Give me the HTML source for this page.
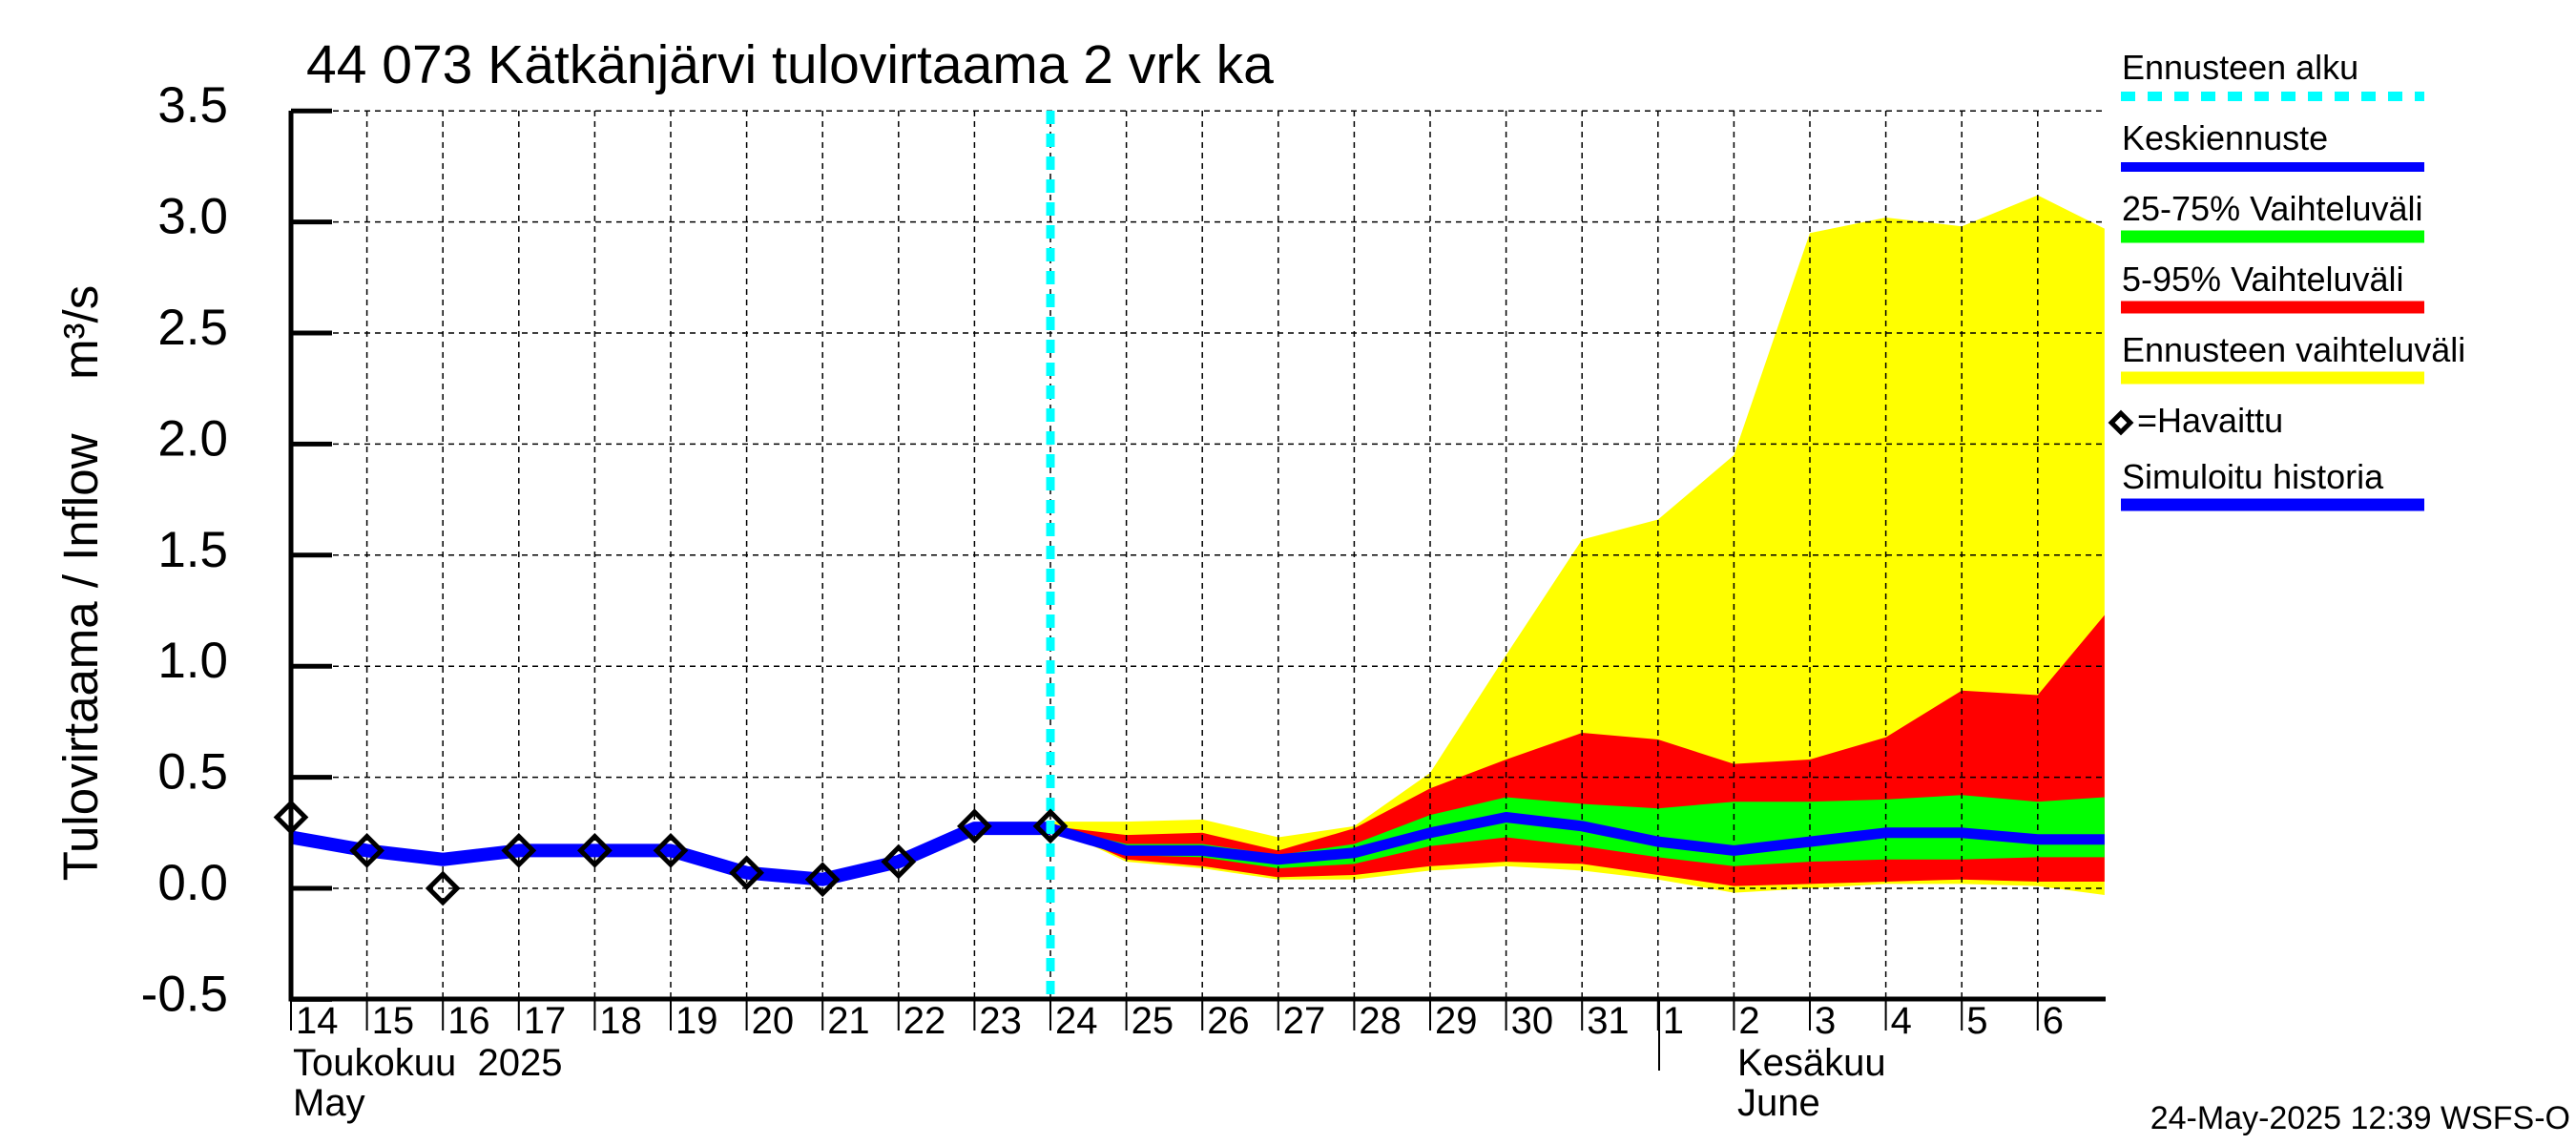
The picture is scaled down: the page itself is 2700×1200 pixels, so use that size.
<!DOCTYPE html>
<html><head><meta charset="utf-8"><style>
html,body{margin:0;padding:0;background:#fff}
svg{display:block}
text{font-family:"Liberation Sans",sans-serif;fill:#000}
</style></head><body>
<svg id="chart" width="2700" height="1200" viewBox="0 0 2700 1200" xmlns="http://www.w3.org/2000/svg">
<g id="bands"></g>
<g id="grid"></g>
<g id="lines"></g>
<g id="axes"></g>
<text x="321" y="87" font-size="57">44 073 Kätkänjärvi tulovirtaama 2 vrk ka</text>
<text transform="translate(102,611) rotate(-90)" font-size="51" text-anchor="middle" xml:space="preserve">Tulovirtaama / Inflow    m³/s</text>
<text x="307" y="1127" font-size="40" xml:space="preserve">Toukokuu  2025</text>
<text x="307" y="1169" font-size="40">May</text>
<text x="1821" y="1127" font-size="40">Kesäkuu</text>
<text x="1821" y="1169" font-size="40">June</text>
<line x1="1739" y1="1047" x2="1739" y2="1122" stroke="#000" stroke-width="2"/>
<text x="2694" y="1183" font-size="34" text-anchor="end">24-May-2025 12:39 WSFS-O</text>
<g>
<text x="2224" y="83" font-size="36">Ennusteen alku</text>
<line x1="2223" y1="101" x2="2541" y2="101" stroke="#00ffff" stroke-width="10" stroke-dasharray="15,13"/>
<text x="2224" y="157" font-size="36">Keskiennuste</text>
<line x1="2223" y1="175" x2="2541" y2="175" stroke="#0000ff" stroke-width="10"/>
<text x="2224" y="231" font-size="36">25-75% Vaihteluväli</text>
<line x1="2223" y1="248" x2="2541" y2="248" stroke="#00ff00" stroke-width="13"/>
<text x="2224" y="305" font-size="36">5-95% Vaihteluväli</text>
<line x1="2223" y1="322" x2="2541" y2="322" stroke="#ff0000" stroke-width="13"/>
<text x="2224" y="379" font-size="36">Ennusteen vaihteluväli</text>
<line x1="2223" y1="396" x2="2541" y2="396" stroke="#ffff00" stroke-width="13"/>
<rect x="2216" y="436" width="14" height="14" transform="rotate(45 2223 443)" fill="#fff" stroke="#000" stroke-width="5"/>
<text x="2240" y="453" font-size="36">=Havaittu</text>
<text x="2224" y="512" font-size="36">Simuloitu historia</text>
<line x1="2223" y1="529" x2="2541" y2="529" stroke="#0000ff" stroke-width="13"/>
</g>
</svg>
<script>
// data
const dayLabels = ["14","15","16","17","18","19","20","21","22","23","24","25","26","27","28","29","30","31","1","2","3","4","5","6"];
const yTicks = [-0.5,0.0,0.5,1.0,1.5,2.0,2.5,3.0,3.5];
const obsIdx = [0,1,2,3,4,5,6,7,8,9,10];
const observed = [0.32,0.17,0.0,0.17,0.17,0.17,0.07,0.04,0.12,0.28,0.28];
const simulated = [0.23,0.17,0.13,0.17,0.17,0.17,0.07,0.04,0.12,0.27,0.27];
const fcIdx = [10,11,12,13,14,15,16,17,18,19,20,21,22,23,23.88];
const median = [0.27,0.17,0.17,0.13,0.16,0.25,0.32,0.28,0.21,0.17,0.21,0.25,0.25,0.22,0.22];
const yelHi = [0.30,0.30,0.31,0.23,0.28,0.52,1.05,1.57,1.66,1.95,2.95,3.02,2.98,3.12,2.97];
const yelLo = [0.28,0.12,0.09,0.04,0.04,0.08,0.10,0.08,0.04,-0.02,0.00,0.02,0.02,0.01,-0.03];
const redHi = [0.28,0.24,0.25,0.17,0.27,0.45,0.58,0.70,0.67,0.56,0.58,0.68,0.89,0.87,1.23];
const redLo = [0.28,0.13,0.10,0.05,0.06,0.10,0.12,0.11,0.06,0.01,0.02,0.03,0.04,0.03,0.03];
const grnHi = [0.28,0.20,0.20,0.15,0.20,0.33,0.41,0.38,0.36,0.39,0.39,0.40,0.42,0.39,0.41];
const grnLo = [0.28,0.15,0.14,0.09,0.11,0.19,0.23,0.19,0.14,0.10,0.12,0.13,0.13,0.14,0.14];
const forecastStart = 10;

const X0=305, X1=2207, DX=79.6, Y0=931, DY=232.8, YT=116, YB=1047;
const xs = i => X0 + i*DX;
const ys = v => Y0 - v*DY;
const NS="http://www.w3.org/2000/svg";
function mk(tag, parent, attrs){const e=document.createElementNS(NS,tag);for(const k in attrs)e.setAttribute(k,attrs[k]);parent.appendChild(e);return e;}
const bands=document.getElementById('bands'), grid=document.getElementById('grid'), lines=document.getElementById('lines'), axes=document.getElementById('axes');

function band(hi, lo, color, name){
  let pts=fcIdx.map((i,k)=>xs(i)+','+ys(hi[k]));
  for(let k=fcIdx.length-1;k>=0;k--) pts.push(xs(fcIdx[k])+','+ys(lo[k]));
  const p=mk('polygon',bands,{points:pts.join(' '),fill:color});
  
  
}
band(yelHi,yelLo,'#ffff00','band-forecast-range');
band(redHi,redLo,'#ff0000','band-5-95');
band(grnHi,grnLo,'#00ff00','band-25-75');

// grid
for(let i=1;i<dayLabels.length;i++){
  const l=mk('line',grid,{x1:xs(i),y1:YT,x2:xs(i),y2:YB,stroke:'#000','stroke-width':1.5,'stroke-dasharray':'6,5'});
  
  
}
yTicks.forEach(v=>{
  const l=mk('line',grid,{x1:X0,y1:ys(v),x2:X1,y2:ys(v),stroke:'#000','stroke-width':1.5,'stroke-dasharray':'6,5'});
  
  
});

// lines
const sim=mk('polyline',lines,{points:obsIdx.map((i,k)=>xs(i)+','+ys(simulated[k])).join(' '),fill:'none',stroke:'#0000ff','stroke-width':14,'stroke-linejoin':'round'});


const med=mk('polyline',lines,{points:fcIdx.map((i,k)=>xs(i)+','+ys(median[k])).join(' '),fill:'none',stroke:'#0000ff','stroke-width':11,'stroke-linejoin':'round'});


const fs=mk('line',lines,{x1:xs(forecastStart),y1:YT,x2:xs(forecastStart),y2:YB,stroke:'#00ffff','stroke-width':9,'stroke-dasharray':'14,10'});


obsIdx.forEach((i,k)=>{
  const cx=xs(i), cy=ys(observed[k]);
  const d=mk('rect',lines,{x:cx-10.5,y:cy-10.5,width:21,height:21,fill:'none',stroke:'#000','stroke-width':5,transform:`rotate(45 ${cx} ${cy})`});
  
  
});

// axes
const fr=mk('polyline',axes,{points:`${X0},${YT} ${X0},${YB} ${X1},${YB}`,fill:'none',stroke:'#000','stroke-width':5});


yTicks.forEach(v=>{
  const t=mk('line',axes,{x1:X0,y1:ys(v),x2:X0+43,y2:ys(v),stroke:'#000','stroke-width':5});
  
  
  const tx=mk('text',axes,{x:239,y:ys(v)+12,'font-size':53,'text-anchor':'end'});
  tx.textContent=v.toFixed(1);
  
  
});
dayLabels.forEach((lab,i)=>{
  const t=mk('line',axes,{x1:xs(i),y1:YB,x2:xs(i),y2:YB+33,stroke:'#000','stroke-width':2});
  
  
  const tx=mk('text',axes,{x:xs(i)+5,y:1083,'font-size':40});
  tx.textContent=lab;
  
  
});
</script>
</body></html>
